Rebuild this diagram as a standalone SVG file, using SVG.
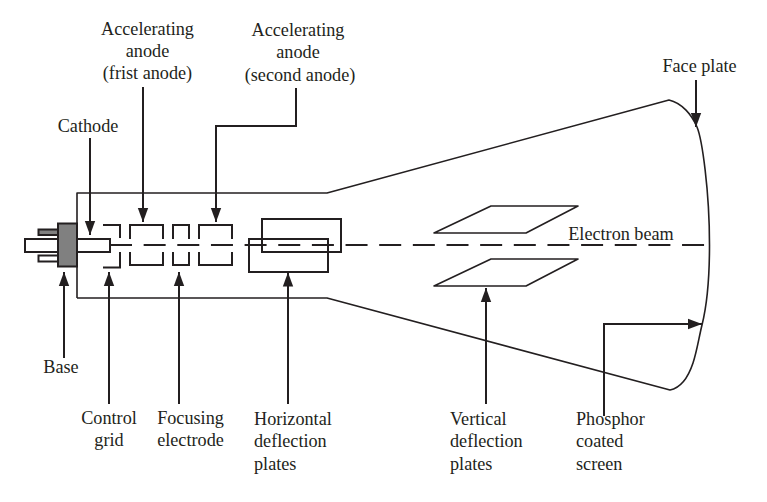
<svg xmlns="http://www.w3.org/2000/svg" width="767" height="502" viewBox="0 0 767 502">
<style>
text{font-family:"Liberation Serif","Times New Roman",serif;font-size:18.2px;fill:#231f20;text-anchor:middle}
.s{text-anchor:start}
.l{fill:none;stroke:#231f20;stroke-width:2}
.b{fill:none;stroke:#231f20;stroke-width:1.6;stroke-linejoin:round}
.a{fill:none;stroke:#231f20;stroke-width:2;marker-end:url(#h)}
</style>
<defs><marker id="h" markerUnits="userSpaceOnUse" markerWidth="16" markerHeight="12" refX="14" refY="6" orient="auto"><path d="M0 0.800L14 6L0 11.200Z" fill="#231f20"/></marker></defs>
<rect width="767" height="502" fill="#fff"/>
<g id="tube">
<path class="b" d="M77 298V193H327L669 100C682 103 692 115 697 127C702 139 709.500 190 709.500 245C709.500 280 707 305 702 325C699 337 697 351 693 363C688 378 680 388 670 390L327 298H77"/>
</g>
<g id="base"><rect x="58" y="223.500" width="19" height="43" fill="#808080" stroke="#231f20" stroke-width="2"/></g>
<g id="pins">
<rect x="38.500" y="229.500" width="19.500" height="5.500" fill="#808080" stroke="#231f20" stroke-width="2"/>
<rect x="38.500" y="255.500" width="19.500" height="6" fill="#fff" stroke="#231f20" stroke-width="2"/>
<rect x="25" y="239" width="33" height="13" fill="#fff" stroke="#231f20" stroke-width="2"/>
</g>
<g id="cathode"><rect x="77" y="239" width="33" height="13" fill="#fff" stroke="#231f20" stroke-width="2"/></g>
<g id="control-grid"><path class="l" d="M103 225H120V238M120 252V267.500H103"/></g>
<g id="first-anode"><path class="l" d="M130 239V225H163V239M130 252V265H163V252"/></g>
<g id="focusing-electrode"><path class="l" d="M173 239V225H189V239M173 252V265H189V252"/></g>
<g id="second-anode"><path class="l" d="M199 239V225H232V239M199 252V265H232V252"/></g>
<g id="horizontal-plates">
<rect class="l" x="262" y="219" width="79" height="33"/>
<rect class="l" x="249" y="239" width="79" height="33"/>
</g>
<g id="vertical-plates">
<path class="b" d="M491 206H578L526 233H434Z"/>
<path class="b" d="M491 259H578L526 286H434Z"/>
</g>
<g id="connectors">
<path class="l" stroke-dasharray="22 11.650" d="M110 245H705"/>
<path class="a" d="M90 138V235"/>
<path class="a" d="M143 87V222"/>
<path class="a" d="M296 88V126H216V222"/>
<path class="a" d="M696 80V127"/>
<path class="a" d="M64 358V272"/>
<path class="a" d="M109 404V272"/>
<path class="a" d="M179 404V272"/>
<path class="a" d="M288 404V272.500"/>
<path class="a" d="M486 404V288"/>
<path class="a" d="M604 416V324H702"/>
</g>
<g id="labels">
<text x="147.500" y="35">Accelerating</text><text x="147.500" y="57">anode</text><text x="147.500" y="79">(frist anode)</text>
<text x="298" y="36">Accelerating</text><text x="298" y="58">anode</text><text x="300" y="81">(second anode)</text>
<text x="88" y="132">Cathode</text>
<text x="699.500" y="72">Face plate</text>
<text x="621" y="240">Electron beam</text>
<text x="61" y="373">Base</text>
<text x="109" y="424">Control</text><text x="109" y="446">grid</text>
<text x="190.500" y="424">Focusing</text><text x="190.500" y="446">electrode</text>
<text class="s" x="254" y="425">Horizontal</text><text class="s" x="254" y="447">deflection</text><text class="s" x="254" y="470">plates</text>
<text class="s" x="450" y="425">Vertical</text><text class="s" x="450" y="447">deflection</text><text class="s" x="450" y="470">plates</text>
<text class="s" x="576" y="425">Phosphor</text><text class="s" x="576" y="447">coated</text><text class="s" x="576" y="470">screen</text>
</g>
</svg>
